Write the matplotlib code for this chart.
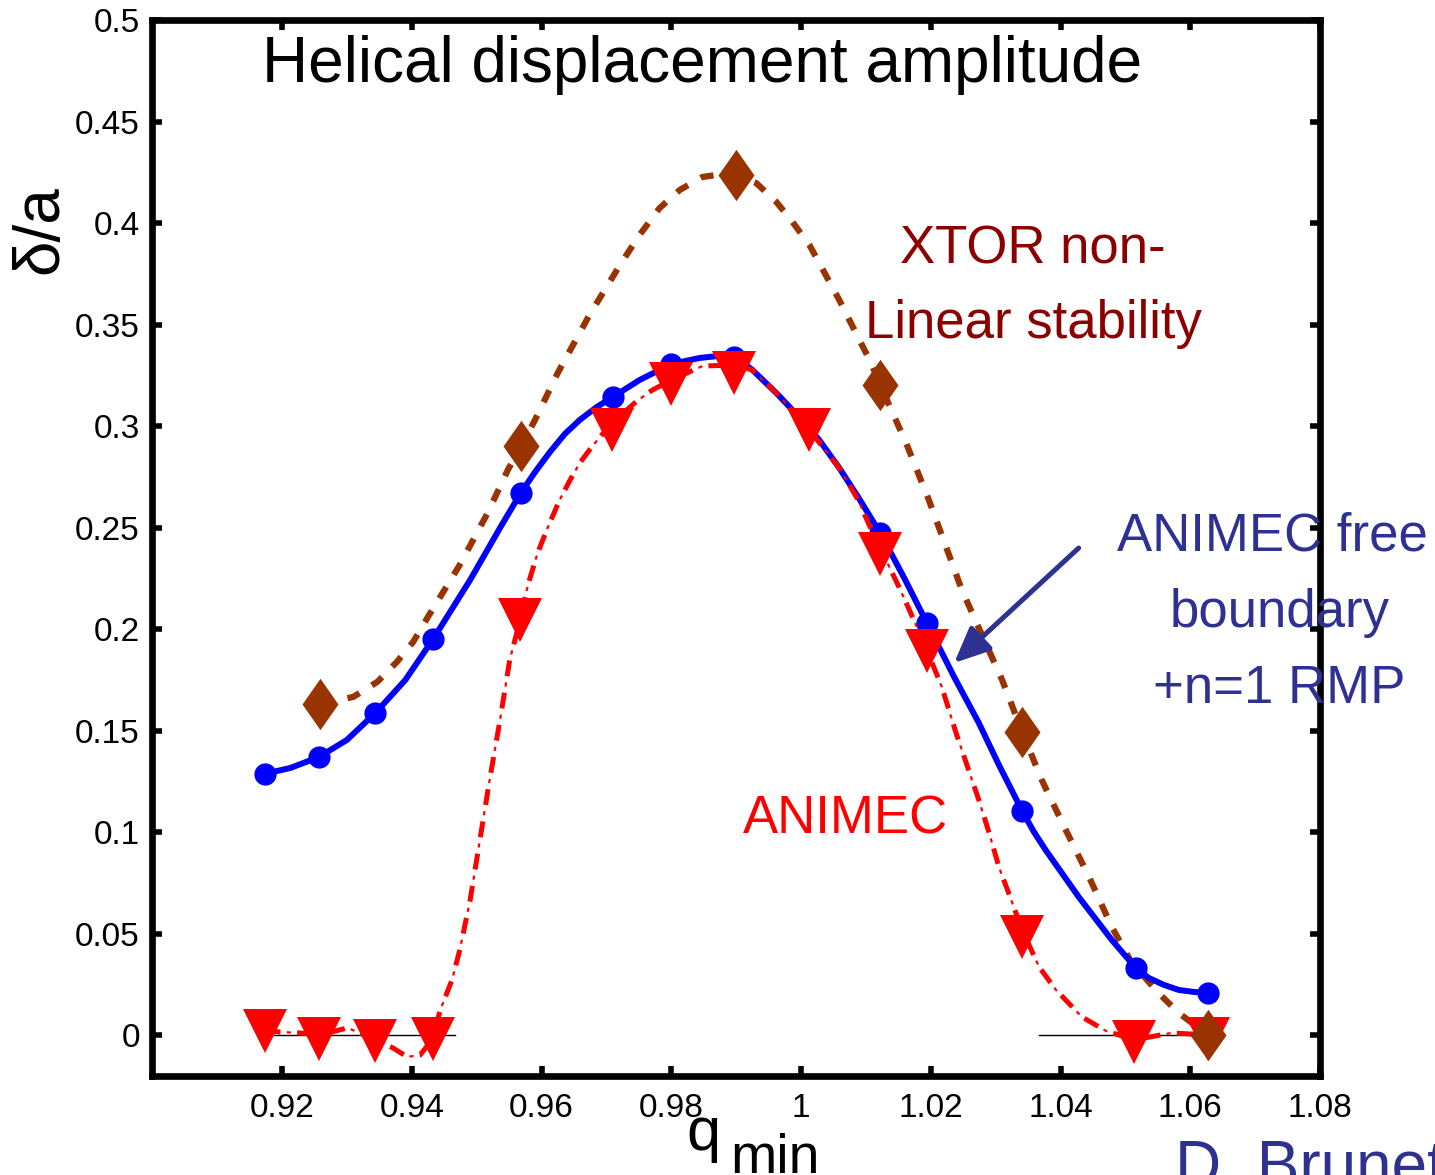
import matplotlib
matplotlib.use('Agg')
import matplotlib.pyplot as plt
from matplotlib import font_manager
from matplotlib.path import Path

# ---------------- data ----------------
# ANIMEC free boundary + n=1 RMP (blue circles)
q_blue = [0.9173, 0.9257, 0.9344, 0.9433, 0.9568, 0.9710, 0.9800, 0.9896,
          1.0122, 1.0194, 1.0341, 1.0516, 1.0628]
d_blue = [0.1288, 0.1371, 0.1588, 0.1952, 0.2671, 0.3144, 0.3306, 0.3340,
          0.2474, 0.2031, 0.1105, 0.0332, 0.0209]
# ANIMEC (red triangles)
q_red = [0.9173, 0.9257, 0.9344, 0.9432, 0.9567, 0.9708, 0.9800, 0.9896,
         1.0013, 1.0121, 1.0194, 1.0341, 1.0514, 1.0628]
d_red = [0.002, -0.002, -0.003, -0.002, 0.2046, 0.2981, 0.3208, 0.3262,
         0.2981, 0.2369, 0.1894, 0.0483, -0.0032, -0.002]
# XTOR non-linear stability (brown diamonds)
q_xtor = [0.9259, 0.9569, 0.9899, 1.0122, 1.0341, 1.0628]
d_xtor = [0.1631, 0.2902, 0.4237, 0.3203, 0.1493, 0.0]

# smooth fitted curves
q_blue_curve = [0.9173, 0.9213, 0.9257, 0.9300, 0.9344, 0.9390, 0.9433, 0.9490,
                0.9536, 0.9568, 0.9590, 0.9613, 0.9636, 0.9659, 0.9685, 0.9710,
                0.9751, 0.9800, 0.9844, 0.9874, 0.9905, 0.9925, 0.9962, 0.9997,
                1.0028, 1.0059, 1.0088, 1.0122, 1.0159, 1.0194, 1.0236, 1.0274,
                1.0305, 1.0341, 1.0359, 1.0377, 1.0428, 1.0479, 1.0516, 1.0536,
                1.0559, 1.0582, 1.0605, 1.0628]
d_blue_curve = [0.1288, 0.1317, 0.1371, 0.1455, 0.1588, 0.1750, 0.1952, 0.2243,
                0.2499, 0.2671, 0.2774, 0.2873, 0.2962, 0.3031, 0.3094, 0.3144,
                0.3227, 0.3306, 0.3336, 0.3346, 0.3326, 0.3277, 0.3163, 0.3045,
                0.2932, 0.2794, 0.2651, 0.2474, 0.2253, 0.2031, 0.1765, 0.1539,
                0.1332, 0.1105, 0.1002, 0.0913, 0.0682, 0.0470, 0.0332, 0.0283,
                0.0249, 0.0224, 0.0214, 0.0209]

q_red_curve = [0.9173, 0.9197, 0.9228, 0.9259, 0.9301, 0.9344, 0.9371, 0.9393,
               0.9413, 0.9431, 0.9444, 0.9462, 0.9474, 0.9490, 0.9505, 0.9520,
               0.9536, 0.9551, 0.9567, 0.9579, 0.9594, 0.9610, 0.9628, 0.9644,
               0.9659, 0.9674, 0.9690, 0.9708, 0.9728, 0.9747, 0.9771, 0.9800,
               0.9848, 0.9896, 0.9925, 0.9962, 1.0013, 1.0059, 1.0088, 1.0105,
               1.0151, 1.0167, 1.0194, 1.0217, 1.0239, 1.0274, 1.0290, 1.0305,
               1.0324, 1.0341, 1.0367, 1.0393, 1.0433, 1.0470, 1.0514, 1.0571,
               1.0628]
d_red_curve = [0.0022, 0.0017, 0.0012, 0.0002, 0.0037, -0.0022, -0.0062, -0.0106,
               -0.0096, -0.0022, 0.0126, 0.0273, 0.0421, 0.0667, 0.0963, 0.1258,
               0.1553, 0.1849, 0.2046, 0.2218, 0.2376, 0.2504, 0.2637, 0.2735,
               0.2819, 0.2883, 0.2947, 0.3011, 0.3070, 0.3124, 0.3178, 0.3227,
               0.3296, 0.3301, 0.3277, 0.3163, 0.2981, 0.2794, 0.2637, 0.2514,
               0.2208, 0.2095, 0.1898, 0.1716, 0.1489, 0.1160, 0.0997, 0.0830,
               0.0667, 0.0519, 0.0337, 0.0224, 0.0091, 0.0022, -0.0022, 0.0012,
               0.0002]

q_xtor_curve = [0.9259, 0.9310, 0.9347, 0.9377, 0.9402, 0.9425, 0.9474, 0.9517,
                0.9548, 0.9569, 0.9590, 0.9625, 0.9674, 0.9721, 0.9751, 0.9782,
                0.9813, 0.9848, 0.9874, 0.9899, 0.9931, 0.9962, 0.9987, 1.0013,
                1.0059, 1.0108, 1.0122, 1.0162, 1.0197, 1.0248, 1.0310, 1.0341,
                1.0371, 1.0408, 1.0444, 1.0479, 1.0510, 1.0551, 1.0582, 1.0628]
d_xtor_curve = [0.1632, 0.1667, 0.1741, 0.1839, 0.1937, 0.2061, 0.2317, 0.2573,
                0.2784, 0.2903, 0.3031, 0.3262, 0.3548, 0.3794, 0.3941, 0.4074,
                0.4163, 0.4227, 0.4239, 0.4237, 0.4197, 0.4104, 0.4005, 0.3892,
                0.3621, 0.3311, 0.3203, 0.2917, 0.2637, 0.2193, 0.1750, 0.1494,
                0.1258, 0.1012, 0.0780, 0.0534, 0.0357, 0.0209, 0.0111, 0.0000]

# thin zero reference segments
q_zero_left = [0.9187, 0.9467]
q_zero_right = [1.0367, 1.0625]
d_zero = [0.0, 0.0]

x_ticks = [0.92, 0.94, 0.96, 0.98, 1.00, 1.02, 1.04, 1.06, 1.08]
x_tick_labels = ['0.92', '0.94', '0.96', '0.98', '1', '1.02', '1.04', '1.06', '1.08']
y_ticks = [0.0, 0.05, 0.10, 0.15, 0.20, 0.25, 0.30, 0.35, 0.40, 0.45, 0.50]
y_tick_labels = ['0', '0.05', '0.1', '0.15', '0.2', '0.25', '0.3', '0.35', '0.4', '0.45', '0.5']

# ---------------- style ----------------
plt.rcParams['lines.scale_dashes'] = False
names = {f.name for f in font_manager.fontManager.ttflist}
MAIN = 'Liberation Sans' if 'Liberation Sans' in names else 'DejaVu Sans'
NARROW = 'Liberation Sans Narrow' if 'Liberation Sans Narrow' in names else MAIN

BLUE = '#0000FF'
RED = '#FF0000'
BROWN = '#993300'
DARKRED = '#8B0000'
NAVY = '#2E3192'

W, H = 1435, 1175
fig = plt.figure(figsize=(W / 100, H / 100), dpi=100)


def fx(p):
    return p / W


def fy(p):
    return 1 - p / H


ax = fig.add_axes([fx(152.3), fy(1076), (1320 - 152.3) / W, (1076 - 20) / H])

# zero segments
ax.plot(q_zero_left, d_zero, color='black', lw=1.0, zorder=1)
ax.plot(q_zero_right, d_zero, color='black', lw=1.0, zorder=1)

# XTOR dashed curve
ax.plot(q_xtor_curve, d_xtor_curve, color=BROWN, lw=4.5,
        linestyle=(0, (9.5, 10.5)), zorder=2)
# ANIMEC free boundary solid curve
ax.plot(q_blue_curve, d_blue_curve, color=BLUE, lw=4.3, solid_capstyle='round',
        solid_joinstyle='round', zorder=3)
ax.plot(q_blue, d_blue, linestyle='none', marker='o', markersize=16,
        color=BLUE, markeredgewidth=0, zorder=3)
# ANIMEC dash-dot curve: thick dashes + thin dots
ax.plot(q_red_curve, d_red_curve, color=RED, lw=3.6,
        linestyle=(0, (11.5, 12.0)), zorder=4)
ax.plot(q_red_curve, d_red_curve, color=RED, lw=1.6,
        linestyle=(7.5, (3.0, 20.5)), zorder=4)
ax.plot(q_red, d_red, linestyle='none', marker='v', markersize=32,
        color=RED, markeredgewidth=0, zorder=5)
# XTOR diamonds
diamond = Path([(0, 1), (0.7, 0), (0, -1), (-0.7, 0), (0, 1)],
               [Path.MOVETO, Path.LINETO, Path.LINETO, Path.LINETO, Path.CLOSEPOLY])
ax.plot(q_xtor, d_xtor, linestyle='none', marker=diamond, markersize=37,
        color=BROWN, markeredgewidth=0, zorder=6)

# axes styling
ax.set_xlim(0.9, 1.08)
ax.set_ylim(-0.02, 0.5)
ax.set_xticks(x_ticks)
ax.set_xticklabels(x_tick_labels)
ax.set_yticks(y_ticks)
ax.set_yticklabels(y_tick_labels)
for s in ax.spines.values():
    s.set_linewidth(4.8)
ax.tick_params(direction='in', length=7, width=4, top=True, right=True,
               labelsize=24)
ax.tick_params(axis='x', pad=12)
ax.tick_params(axis='y', pad=9)
for lab in ax.get_xticklabels() + ax.get_yticklabels():
    lab.set_fontfamily(NARROW)

# arrow
ax.annotate('', xy=(1.0236, 0.1834), xytext=(1.0428, 0.2400),
            arrowprops=dict(arrowstyle='-|>,head_length=1.45,head_width=0.65',
                            lw=3.6, color=NAVY, mutation_scale=15,
                            shrinkA=0, shrinkB=0), zorder=7)

# texts
fig.text(fx(702), fy(82), 'Helical displacement amplitude', fontsize=46,
         family=MAIN, ha='center', va='baseline')
fig.text(fx(40), fy(230), 'δ/a', fontsize=46, family=MAIN, rotation=90,
         ha='center', va='center')
fig.text(fx(1033), fy(263), 'XTOR non-', fontsize=38, family=MAIN,
         color=DARKRED, ha='center', va='baseline')
fig.text(fx(1033), fy(338), 'Linear stability', fontsize=38, family=MAIN,
         color=DARKRED, ha='center', va='baseline')
fig.text(fx(1272), fy(551), 'ANIMEC free', fontsize=38, family=MAIN,
         color=NAVY, ha='center', va='baseline')
fig.text(fx(1280), fy(627), 'boundary', fontsize=38, family=MAIN,
         color=NAVY, ha='center', va='baseline')
fig.text(fx(1279), fy(703), '+n=1 RMP', fontsize=38, family=MAIN,
         color=NAVY, ha='center', va='baseline')
fig.text(fx(845), fy(833), 'ANIMEC', fontsize=38, family=MAIN,
         color=RED, ha='center', va='baseline')
fig.text(fx(703), fy(1150), 'q', fontsize=44, family=MAIN,
         ha='center', va='baseline')
fig.text(fx(730), fy(1173), 'min', fontsize=40, family=MAIN,
         ha='left', va='baseline')
fig.text(fx(1175), fy(1186), 'D. Brunet', fontsize=46, family=MAIN,
         color=NAVY, ha='left', va='baseline')

fig.savefig('out.png', dpi=100)
